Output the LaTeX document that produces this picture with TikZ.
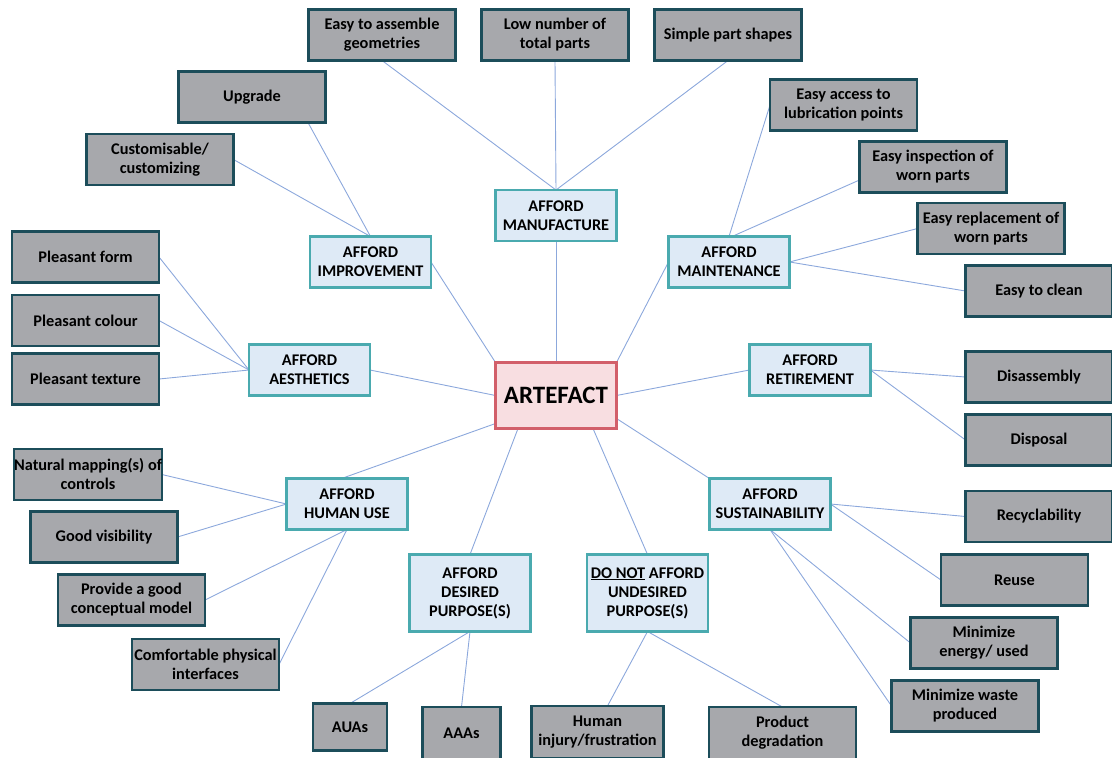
\documentclass[tikz,border=0pt]{standalone}
\usepackage{fontspec}
\setmainfont{Carlito}
\pgfdeclarelayer{links}
\pgfsetlayers{links,main}
\definecolor{leaffill}{RGB}{167,168,172}
\definecolor{leafdraw}{RGB}{28,77,90}
\definecolor{catfill}{RGB}{222,234,246}
\definecolor{catdraw}{RGB}{74,170,175}
\definecolor{hubfill}{RGB}{248,222,225}
\definecolor{hubdraw}{RGB}{210,95,106}
\definecolor{linkcol}{RGB}{140,168,220}
\tikzset{
  every node/.style={font=\bfseries\fontsize{16.3}{19}\selectfont, align=center, inner sep=0pt, outer sep=0pt},
  leaf/.style={draw=leafdraw, fill=leaffill, line width=2.6pt, minimum width=147pt, minimum height=51pt},
  cat/.style={draw=catdraw, fill=catfill, line width=2.6pt, minimum width=121pt, minimum height=51pt},
  hub/.style={draw=hubdraw, fill=hubfill, line width=2.6pt, minimum width=121pt, minimum height=66pt,
    font=\bfseries\fontsize{25}{29}\selectfont},
  link/.style={draw=linkcol, line width=0.9pt}
}
\begin{document}
\begin{tikzpicture}[x=1pt,y=-1pt]
\useasboundingbox (0,0) rectangle (1112,758);

% centre
\node[hub] (art) at (556,395.5) {ARTEFACT};

% categories
\node[cat] (man) at (556,215.5) {AFFORD\\MANUFACTURE};
\node[cat] (imp) at (370.5,262) {AFFORD\\IMPROVEMENT};
\node[cat] (mnt) at (729,262) {AFFORD\\MAINTENANCE};
\node[cat] (aes) at (309.5,370) {AFFORD\\AESTHETICS};
\node[cat] (ret) at (810,370) {AFFORD\\RETIREMENT};
\node[cat] (hum) at (347,504) {AFFORD\\HUMAN USE};
\node[cat] (sus) at (770,504) {AFFORD\\SUSTAINABILITY};
\node[cat, minimum height=77pt] (des) at (470,593) {AFFORD\\DESIRED\\PURPOSE(S)};
\node[cat, minimum height=77pt] (und) at (647.5,593) {\underline{DO NOT} AFFORD\\UNDESIRED\\PURPOSE(S)};

% manufacture
\node[leaf] (asm) at (382,35) {Easy to assemble\\geometries};
\node[leaf] (low) at (555,35) {Low number of\\total parts};
\node[leaf] (sim) at (728,35) {Simple part shapes};
% improvement
\node[leaf] (upg) at (252,97) {Upgrade};
\node[leaf] (cus) at (160,159.5) {Customisable/\\customizing};
% maintenance
\node[leaf] (acc) at (843.5,105) {Easy access to\\lubrication points};
\node[leaf] (ins) at (933,167) {Easy inspection of\\worn parts};
\node[leaf] (rep) at (991,228.5) {Easy replacement of\\worn parts};
\node[leaf] (cln) at (1039,291) {Easy to clean};
% aesthetics
\node[leaf] (frm) at (85.5,257) {Pleasant form};
\node[leaf] (col) at (85.5,320.5) {Pleasant colour};
\node[leaf] (tex) at (85.5,379) {Pleasant texture};
% retirement
\node[leaf] (dis) at (1039,377) {Disassembly};
\node[leaf] (dsp) at (1039,440) {Disposal};
% human use
\node[leaf] (nat) at (88,474.5) {Natural mapping(s) of\\controls};
\node[leaf] (vis) at (104,537) {Good visibility};
\node[leaf] (con) at (131.5,600) {Provide a good\\conceptual model};
\node[leaf] (cmf) at (205.5,664.5) {Comfortable physical\\interfaces};
% sustainability
\node[leaf] (rec) at (1039,516.5) {Recyclability};
\node[leaf] (reu) at (1014.5,580) {Reuse};
\node[leaf] (ene) at (984,643) {Minimize\\energy/ used};
\node[leaf] (wst) at (965,706) {Minimize waste\\produced};
% purposes
\node[leaf, minimum width=74pt, minimum height=47pt] (aua) at (350,727) {AUAs};
\node[leaf, minimum width=78pt, minimum height=52pt] (aaa) at (461.5,733) {AAAs};
\node[leaf, minimum width=132pt, minimum height=52pt] (hin) at (597.5,732) {Human\\injury/frustration};
\node[leaf, minimum width=147pt, minimum height=52pt] (prd) at (782.5,733) {Product\\degradation};

\begin{pgfonlayer}{links}
% centre to categories
\draw[link] (art.north) -- (man.south);
\draw[link] (art.north west) -- (imp.east);
\draw[link] (art.north east) -- (mnt.west);
\draw[link] (art.west) -- (aes.east);
\draw[link] (art.east) -- (ret.west);
\draw[link] ([yshift=5pt]art.south west) -- ([xshift=55pt]hum.north west);
\draw[link] ([xshift=-38pt]art.south) -- (des.north);
\draw[link] ([xshift=37pt]art.south) -- (und.north);
\draw[link] ([yshift=10pt]art.south east) -- (sus.north west);
% manufacture
\draw[link] (man.north) -- (asm.south);
\draw[link] (man.north) -- (low.south);
\draw[link] (man.north) -- (sim.south);
% improvement
\draw[link] (imp.north) -- ([xshift=56pt]upg.south);
\draw[link] (imp.north) -- (cus.east);
% maintenance
\draw[link] (mnt.north) -- (acc.west);
\draw[link] ([xshift=3pt]mnt.north) -- ([yshift=-13pt]ins.west);
\draw[link] (mnt.east) -- (rep.west);
\draw[link] (mnt.east) -- (cln.west);
% aesthetics
\draw[link] (aes.west) -- (frm.east);
\draw[link] (aes.west) -- (col.east);
\draw[link] (aes.west) -- (tex.east);
% retirement
\draw[link] (ret.east) -- (dis.west);
\draw[link] (ret.east) -- (dsp.west);
% human use
\draw[link] (hum.west) -- (nat.east);
\draw[link] (hum.west) -- (vis.east);
\draw[link] (hum.south) -- (con.east);
\draw[link] (hum.south) -- (cmf.east);
% sustainability
\draw[link] (sus.east) -- (rec.west);
\draw[link] (sus.east) -- (reu.west);
\draw[link] (sus.south) -- (ene.west);
\draw[link] (sus.south) -- (wst.west);
% purposes
\draw[link] (des.south) -- (aua.north);
\draw[link] (des.south) -- (aaa.north);
\draw[link] (und.south) -- ([xshift=10pt]hin.north);
\draw[link] (und.south) -- (prd.north);
\end{pgfonlayer}
\end{tikzpicture}
\end{document}
